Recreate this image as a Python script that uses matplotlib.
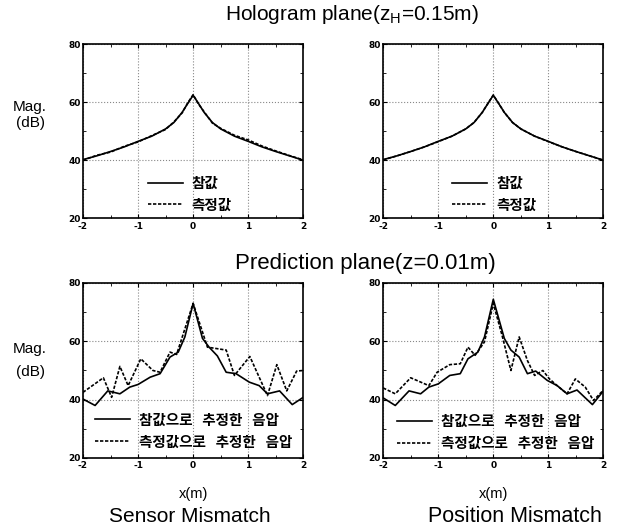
import numpy as np
import matplotlib
matplotlib.use("Agg")
from matplotlib import pyplot as plt
from matplotlib.ticker import MultipleLocator

plt.rcParams['font.family'] = ['Liberation Sans', 'Noto Sans CJK KR', 'DejaVu Sans']
plt.rcParams['axes.unicode_minus'] = False

# hologram plane (z_H = 0.15 m)
holo_x = [-2.0, -1.75, -1.5, -1.25, -1.0, -0.75, -0.5, -0.35, -0.2, -0.1, 0.0,
          0.1, 0.2, 0.35, 0.5, 0.75, 1.0, 1.25, 1.5, 1.75, 2.0]
holo_true = [40.2, 41.5, 43.0, 44.6, 46.5, 48.3, 50.8, 53.0, 56.5, 59.5, 62.4,
             59.5, 56.5, 53.0, 50.8, 48.3, 46.5, 44.6, 43.0, 41.5, 40.0]
holo_meas_sensor = [40.0, 41.7, 42.8, 44.8, 46.3, 48.5, 50.6, 53.2, 56.3, 59.7, 62.6,
                    59.3, 56.7, 52.8, 51.0, 48.6, 47.0, 44.9, 43.2, 41.6, 40.1]
holo_meas_pos = [40.1, 41.5, 43.0, 44.6, 46.4, 48.3, 50.8, 53.0, 56.5, 59.5, 62.5,
                 59.5, 56.5, 53.0, 50.8, 48.3, 46.4, 44.6, 43.0, 41.5, 40.0]

# prediction plane (z = 0.01 m), sensor mismatch
sen_x_true = [-2.0, -1.78, -1.55, -1.33, -1.15, -1.0, -0.78, -0.6, -0.42, -0.27, -0.15, 0.0,
              0.17, 0.29, 0.44, 0.6, 0.78, 1.02, 1.2, 1.35, 1.57, 1.8, 2.0]
sen_true = [40.2, 38.0, 43.0, 42.0, 44.3, 45.2, 47.7, 48.9, 54.6, 56.3, 61.5, 73.0,
            61.0, 58.0, 55.0, 49.4, 48.9, 46.0, 44.8, 42.0, 43.0, 38.3, 40.8]
sen_x_meas = [-2.0, -1.63, -1.48, -1.33, -1.18, -0.95, -0.73, -0.6, -0.42, -0.3, 0.0,
              0.26, 0.6, 0.75, 1.03, 1.35, 1.52, 1.7, 1.88, 2.0]
sen_meas = [42.5, 47.5, 40.8, 51.4, 44.8, 54.0, 50.0, 49.4, 56.3, 55.5, 73.0,
            58.0, 57.0, 48.3, 54.8, 41.4, 52.0, 43.0, 49.8, 50.0]

# prediction plane (z = 0.01 m), position mismatch
pos_x_true = [-2.0, -1.78, -1.53, -1.32, -1.17, -1.0, -0.79, -0.6, -0.46, -0.28, -0.16, 0.0,
              0.2, 0.32, 0.47, 0.62, 0.77, 0.98, 1.16, 1.34, 1.52, 1.8, 2.0]
pos_true = [40.6, 38.0, 43.0, 42.0, 44.3, 45.4, 48.3, 48.9, 54.0, 56.3, 61.5, 74.4,
            61.0, 57.0, 54.6, 48.9, 49.8, 46.6, 44.8, 42.0, 43.3, 38.3, 43.0]
pos_x_meas = [-2.0, -1.78, -1.5, -1.17, -1.02, -0.79, -0.6, -0.46, -0.33, -0.16, 0.0,
              0.16, 0.32, 0.47, 0.62, 0.75, 0.9, 1.02, 1.16, 1.34, 1.49, 1.67, 1.82, 2.0]
pos_meas = [44.0, 42.0, 47.5, 44.8, 49.4, 52.0, 52.3, 58.0, 55.2, 59.8, 73.0,
            62.0, 50.0, 61.5, 53.4, 48.3, 50.0, 47.1, 44.8, 42.0, 47.1, 44.3, 39.7, 43.3]

legend_top = ['참값', '측정값']
legend_bot = ['참값으로   추정한   음압', '측정값으로   추정한   음압']

fig = plt.figure(figsize=(6.17, 5.27), dpi=100)

boxes = [[0.1345, 0.586, 0.357, 0.330], [0.621, 0.586, 0.357, 0.330],
         [0.1345, 0.131, 0.357, 0.332], [0.621, 0.131, 0.357, 0.332]]
leg_anchor = [(0.295, 0.25), (0.314, 0.25), (0.055, 0.265), (0.064, 0.255)]
data = [(holo_x, holo_true, holo_x, holo_meas_sensor, legend_top),
        (holo_x, holo_true, holo_x, holo_meas_pos, legend_top),
        (sen_x_true, sen_true, sen_x_meas, sen_meas, legend_bot),
        (pos_x_true, pos_true, pos_x_meas, pos_meas, legend_bot)]

for i, (box, d) in enumerate(zip(boxes, data)):
    ax = fig.add_axes(box)
    xt, yt, xm, ym, labels = d
    ax.plot(xt, yt, color='black', lw=1.2, label=labels[0])
    ax.plot(xm, ym, color='black', lw=1.2, ls=(0, (2.0, 1.0)), label=labels[1])
    ax.set_xlim(-2, 2)
    ax.set_ylim(20, 80)
    ax.xaxis.set_major_locator(MultipleLocator(1))
    ax.yaxis.set_major_locator(MultipleLocator(20))
    ax.yaxis.set_minor_locator(MultipleLocator(10))
    ax.xaxis.set_minor_locator(MultipleLocator(0.5))
    ax.tick_params(which='both', direction='in', top=True, right=True, labelsize=6.5, pad=1.5)
    ax.tick_params(axis='x', which='major', pad=2.5)
    ax.tick_params(which='major', length=3)
    ax.tick_params(which='minor', length=2)
    for t in ax.get_xticklabels() + ax.get_yticklabels():
        t.set_fontweight('bold')
        t.set_family('DejaVu Sans')
    ax.grid(True, which='major', color='#888888', ls=':', lw=0.8)
    for s in ax.spines.values():
        s.set_linewidth(1.2)
    leg = ax.legend(loc='upper left', bbox_to_anchor=leg_anchor[i], frameon=False,
                    handlelength=2.4, handletextpad=0.6,
                    labelspacing=0.4, borderpad=0, borderaxespad=0,
                    prop={'family': ['Noto Sans CJK KR'], 'weight': 'bold', 'size': 10.5})
    if i >= 2:
        ax.set_xlabel('x(m)', fontsize=10.5, labelpad=12)
    if i % 2 == 0:
        ax.text(-0.24, 0.64 if i == 0 else 0.62, 'Mag.', transform=ax.transAxes,
                ha='center', va='center', fontsize=11)
        ax.text(-0.24, 0.55 if i == 0 else 0.49, '(dB)', transform=ax.transAxes,
                ha='center', va='center', fontsize=11)

fig.text(0.571, 0.972, 'Hologram plane(z$_\\mathregular{H}$=0.15m)', ha='center', va='center',
         fontsize=15)
fig.text(0.592, 0.500, 'Prediction plane(z=0.01m)', ha='center', va='center',
         fontsize=16)
fig.text(0.308, 0.019, 'Sensor Mismatch', ha='center', va='center', fontsize=15)
fig.text(0.835, 0.019, 'Position Mismatch', ha='center', va='center', fontsize=15.5)

fig.savefig('out.png', dpi=100)
